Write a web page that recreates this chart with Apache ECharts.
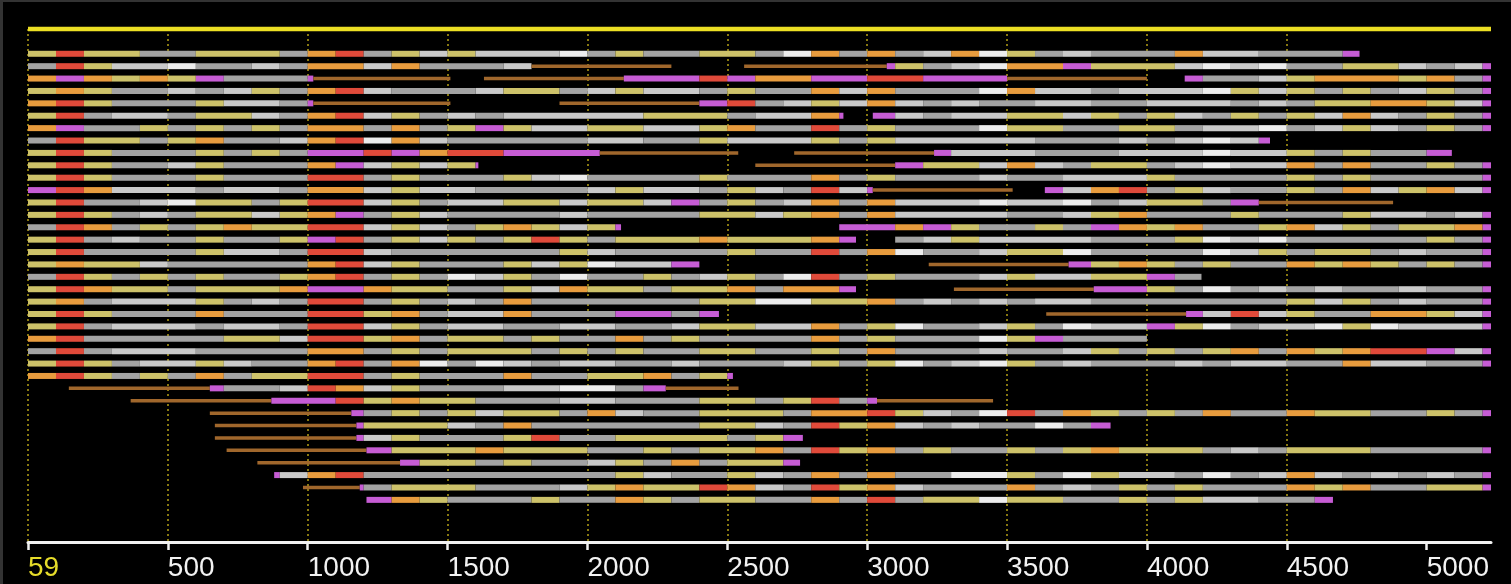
<!DOCTYPE html>
<html>
<head>
<meta charset="utf-8">
<script src="https://cdn.jsdelivr.net/npm/echarts@6/dist/echarts.min.js"></script>
<style>
html,body{margin:0;padding:0;background:#000;}
#chart{width:1511px;height:584px;}
</style>
</head>
<body>
<div id="chart"></div>
<script>
// ---- data ----
const tickValues = [0, 500, 1000, 1500, 2000, 2500, 3000, 3500, 4000, 4500, 5000];
const tickLabels = ['59', '500', '1000', '1500', '2000', '2500', '3000', '3500', '4000', '4500', '5000'];
const axisMax = 5230;
const blockUnit = 100;               // one token length unit = 100 positions
const referenceLine = [0, 5230];     // top yellow reference bar
// each row: tokens <colour code><length in blocks>; '_' = gap
const rows = [
  "k1 r1 k2 g2 k3 g1 o1 r1 g1 k1 l1 k1 l3 w1 g1 k1 g2 k2 g1 w1 o1 g1 o1 g1 l1 o1 w1 k1 g1 l1 g3 o1 l2 g3 m.6",
  "g1 r1 k1 l2 w1 g2 l1 g1 o2 l1 o1 g3 l1 b5 _2.6 b5.1 m.3 k1 g1 l1 w1 o2 m1 k3 l1 w1 l1 w1 g2 k2 l1 g1 l1 m.3",
  "o1 m1 o1 k1 o1 k1 m1 g3 m.2 b4.9 _1.2 b5 m2.7 r1 m1 o2 m2 r2 m3 b5 _1.35 m.65 g2 l1 k1 o3 k1 o1 g1 m.3",
  "k1 o1 k1 g2 l1 g1 l1 k1 g1 o1 r1 l1 g3 l1 k2 g1 l1 k1 l2 g1 k1 g2 o1 l1 o1 g3 w1 o1 l2 g1 l3 w1 k1 l1 k1 g1 k1 g1 l1 k1 g1 m.3",
  "o1 r1 k1 g3 k1 l2 g1 m.2 b4.9 _3.9 b5 m1 r1 g1 l1 k1 l1 o1 l1 g1 l1 g2 l2 g2 l3 g1 l1 g1 k2 o2 k1 l1 m.3",
  "k1 r1 g1 l2 g1 k2 l1 g1 o1 r1 l1 k1 g1 l1 g1 l5 k3 g1 l2 o1 m.15 _1.05 m.8 l1 g1 l2 k2 l1 k1 g1 k1 l1 g1 k1 g1 k1 l1 o1 l1 g1 k1 g1 m.3",
  "o1 m1 g2 k1 g1 k1 g1 k1 g1 o2 g1 o1 g1 k1 m1 k1 l2 k2 l2 k1 o1 g2 r1 g1 k1 g3 w1 k2 g2 k2 g1 l2 w1 g1 l1 k1 l1 g1 k1 g1 m.3",
  "g1 r1 k2 g1 k1 o1 g2 l1 o1 r1 w1 o1 l1 g5 l2 g2 k1 l3 k1 g1 k1 l5 g3 l1 g1 l1 w1 l1 m.4",
  "k1 r1 k1 g3 k1 g1 k1 g1 m2 r1 m1 o1 r2 m3.44 b4.95 _2 b5 m.61 l3 g3 l3 w1 l2 k1 g1 k1 g2 m.9",
  "k1 r1 k1 g2 l1 k1 g3 o1 m1 l1 k1 l1 k1 m.1 _9.9 b5 m1 k2 l1 o1 l1 g1 k2 g1 l1 w1 l2 o1 g1 o1 g2 k1 g1 m.3",
  "k1 r1 k1 g3 k1 g3 r2 g1 k1 g3 k1 l1 w1 g4 k1 g3 o1 g1 k1 g3 l1 g2 l3 k1 g4 k1 g1 k1 g4 m.3",
  "m1 r1 o1 l3 g1 l2 g1 o2 l1 k1 l2 g4 l1 k1 l2 g1 k1 l1 g1 r1 l1 m.2 b5 _1.15 m.65 l1 o1 r1 g1 k1 l1 g2 k1 g1 o1 l1 k1 o1 l1 m.3",
  "k1 r1 g2 l1 w1 k2 g1 k1 r2 l1 k1 g1 l2 k2 l1 k2 l1 m1 g1 k1 g1 l1 o1 g1 o1 l3 w1 l2 w1 g1 l1 k2 g1 m1 b4.8",
  "k1 r1 k1 g1 l1 g1 k2 l1 k1 o1 m1 g1 k1 l1 g4 l1 g4 k2 l1 k1 o1 g1 o1 l4 g2 l1 k1 o1 g3 k1 g3 k1 l2 g1 l1 m.3",
  "g1 r1 o1 g1 k1 g1 k1 o1 k2 r2 l1 k1 l1 g1 k1 o1 k1 l1 k1 m.2 _7.8 m2 o1 m1 k1 g2 k1 g1 m1 o1 k1 o1 g2 k1 o1 l1 k1 g1 k2 o1 m.3",
  "k1 r1 g1 l1 g2 k1 g2 k1 m1 r1 g1 k1 l1 k1 g1 k1 r1 k1 g1 k3 o1 k3 o1 m.6 _1.4 g1 l1 k1 l4 g3 k1 w1 l1 w1 g5 k1 g1 m.3",
  "k1 r1 g4 k1 l2 g1 r2 l1 g6 k1 l1 g4 k1 g2 r1 g1 o1 w1 g2 l1 k2 w1 g4 w1 l1 k1 g1 k2 g1 l1 g2 m.3",
  "k1 o1 k2 l1 g5 o1 r1 l1 k1 g3 k1 l1 k1 w1 l2 m1 _8.2 b5 m.8 k1 o1 k1 g1 k1 g2 o1 k1 o1 k1 g1 k1 g1 m.3",
  "g1 r1 k1 g1 k1 g1 k1 g2 k1 o1 r1 g1 k1 g1 w1 l1 k1 g1 w1 g2 k1 g1 l1 k1 g1 w1 r1 g1 k1 g3 l1 k1 l2 k2 m1 g.95",
  "k1 r1 o1 k2 g1 k3 o1 m2 o1 k2 g2 k1 l1 o1 k2 g1 k2 o1 g1 o2 m.6 _3.5 b5 m1.9 k1 g1 w1 g1 l1 g1 l1 g2 l1 g2 m.3",
  "k1 o1 g1 l3 k1 g1 l1 g1 r2 g1 k1 g1 l1 g1 o1 g6 k2 w2 k2 o1 g1 l1 g1 l1 g1 l2 g7 k1 l1 k1 g1 l1 g2 m.3",
  "k1 r1 k1 g3 o1 g3 r2 k1 o1 g1 l2 o1 g3 m2 g1 m.7 _11.7 b5 m.6 l1 r1 l1 k1 g2 o2 k1 l1 m.3",
  "k1 r1 g1 l3 g1 l2 g1 r2 l1 k1 g1 l2 g2 l2 g2 l1 k2 l2 o1 g1 k1 w1 g2 l1 k1 g1 w1 l2 m1 k1 w1 g1 l2 w1 k1 w1 l3 m.3",
  "o1 r1 g5 k2 l1 r2 k1 o1 g1 k2 g1 k1 g2 o1 g1 k1 g4 o1 g1 k1 g3 w1 k1 m1 g3",
  "g1 r1 g1 l3 g4 o2 g1 k1 g1 k3 g1 k1 g1 k1 g2 k2 g2 k1 g1 o1 g3 l1 g2 l1 k1 g1 k1 g1 k1 o1 g1 o1 k1 o1 r2 m1 l1 m.3",
  "k1 r1 k1 g1 l2 k1 l1 g2 o1 r1 g1 o1 w1 g1 w1 l1 g1 l2 g2 l1 g3 l1 k1 g1 k1 w1 g1 l1 w1 k1 g1 l1 g3 l1 g1 l2 g2 o1 l2 g2 m.3",
  "o1 r1 k1 g1 k1 g1 o1 g1 k2 r2 g1 k1 g3 o1 g2 k2 o1 g1 k1 m.2",
  "_1.46 b5.04 m.5 g2 l1 r1 o1 l1 k1 g3 l2 w2 g1 m.8 b2.6",
  "_3.67 b5.03 m2.3 r1 k1 o1 k2 g3 l2 g3 k2 g1 k1 r1 g1 m.35 b4.15",
  "_6.5 b5.06 m.44 g1 k1 g1 k1 l1 k2 g1 o1 l1 g2 k3 g1 o2 r1 k1 l1 g1 w1 r1 g1 o1 k1 g1 k1 g1 o1 g2 o1 k2 g2 k1 g1 m.3",
  "_6.68 b5.06 m.26 k3 l1 g1 o1 g6 k2 l1 g1 r1 k1 o1 l1 g1 l1 g2 w1 g1 m.7",
  "_6.68 b5.06 m.26 l1 k1 g3 k1 r1 g2 k4 g1 k1 m.7",
  "_7.1 b5 m.9 k3 o1 k3 g2 k1 g1 k2 o1 g1 r1 k1 o1 g1 k1 g2 k1 g1 k1 o1 k3 g1 l1 g1 k3 g4 m.3",
  "_8.2 b5.1 m.7 k2 g1 k1 g2 l1 k1 g1 o1 g1 k2 m.6",
  "_8.8 m.2 l1 o1 r1 g9 k1 l1 g2 k1 l1 g1 o1 g1 o1 g2 w2 k1 g1 w1 k1 l2 g1 w1 g1 l1 o1 l1 g1 l1 g1 l1 g1 m.3",
  "_9.83 b2.03 m.14 g1 k3 g3 l1 k1 o1 k2 r1 o1 l1 g1 r1 k1 o1 l1 g3 o1 g1 l1 g1 k1 g1 k1 g3 o1 k1 o1 g2 k2 m.3",
  "_12.1 m.9 o1 k1 g3 k1 g2 o1 k1 g1 k2 g2 o1 g1 r1 g1 k2 w1 k2 g2 k1 g1 k1 l2 g2 m.65"
];

// ---- styles ----
const palette = {
  k: '#cdc26a', g: '#a3a3a3', l: '#c9c9c9', w: '#ececec',
  o: '#e89c3e', r: '#e04a3a', m: '#c65cd4', b: '#a0672c', y: '#ecdf24'
};
const thickness = { b: 3.5, y: 4.5 };

// ---- build segments ----
const segments = [];   // [start, end, slot]
const segColor = [];
segments.push([referenceLine[0], referenceLine[1], 0]); segColor.push('y');
rows.forEach((row, i) => {
  let pos = 0;
  row.trim().split(/\s+/).forEach(tok => {
    const c = tok[0];
    const len = parseFloat(tok.slice(1)) * blockUnit;
    if (c !== '_') { segments.push([pos, pos + len, i + 2]); segColor.push(c); }
    pos += len;
  });
});

const font = 'Liberation Sans, Arial, sans-serif';
const chart = echarts.init(document.getElementById('chart'));
chart.setOption({
  backgroundColor: '#000',
  animation: false,
  graphic: [
    { type: 'rect', left: 0, top: 0, shape: { width: 3, height: 584 }, style: { fill: '#333' } },
    { type: 'rect', left: 0, top: 0, shape: { width: 1511, height: 2 }, style: { fill: '#333' } }
  ],
  grid: { left: 28, right: 20, top: 29, height: 513, containLabel: false },
  xAxis: {
    type: 'value', min: 0, max: axisMax, interval: 500, position: 'bottom',
    axisLine: { show: true, onZero: false, lineStyle: { color: '#f2f2f2', width: 3 } },
    axisTick: { show: true, customValues: tickValues, length: 8, lineStyle: { color: '#f2f2f2', width: 2.5 } },
    axisLabel: {
      customValues: tickValues,
      align: 'left', margin: 12,
      color: '#f2f2f2', fontSize: 28, fontFamily: font,
      formatter: v => {
        const i = tickValues.indexOf(v);
        if (i < 0) return '';
        return i === 0 ? '{y|' + tickLabels[i] + '}' : tickLabels[i];
      },
      rich: { y: { color: '#e6dc2a', fontSize: 28, fontFamily: font } }
    },
    splitLine: { show: true, showMaxLine: false, lineStyle: { color: '#b4a016', width: 1.5, type: [2, 3] } }
  },
  yAxis: { type: 'value', min: 0, max: 41.4, inverse: true, show: false },
  series: [{
    type: 'custom',
    encode: { x: [0, 1], y: 2 },
    data: segments,
    renderItem: (params, api) => {
      const c = segColor[params.dataIndex];
      const p0 = api.coord([api.value(0), api.value(2)]);
      const p1 = api.coord([api.value(1), api.value(2)]);
      const h = thickness[c] || 6;
      return {
        type: 'rect',
        shape: { x: p0[0], y: p0[1] - h / 2, width: p1[0] - p0[0], height: h },
        style: { fill: palette[c] }
      };
    }
  }]
});
</script>
</body>
</html>
